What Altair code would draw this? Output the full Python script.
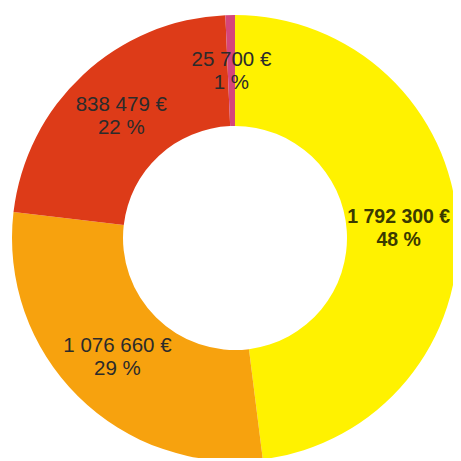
import altair as alt
import pandas as pd

categories = ["A", "B", "C", "D"]
values = [1792300, 1076660, 838479, 25700]
amount_labels = ["1 792 300 €", "1 076 660 €", "838 479 €", "25 700 €"]
pct_labels = ["48 %", "29 %", "22 %", "1 %"]
colors = ["#FFF200", "#F7A20E", "#DD3B18", "#D5467A"]

df = pd.DataFrame({
    "cat": categories,
    "value": values,
    "order": list(range(len(categories))),
    "label": [a + "\n" + p for a, p in zip(amount_labels, pct_labels)],
})
df["lab_bold"] = [l if i == 0 else "" for i, l in enumerate(df["label"])]
df["lab_reg"] = [l if i != 0 else "" for i, l in enumerate(df["label"])]

base = alt.Chart(df).encode(
    theta=alt.Theta("value:Q", stack=True),
    order=alt.Order("order:Q"),
    x=alt.value(227),
    y=alt.value(230),
)

arcs = base.mark_arc(outerRadius=223, innerRadius=112).encode(
    color=alt.Color("cat:N", scale=alt.Scale(domain=categories, range=colors), legend=None)
)

txt_bold = base.mark_text(
    radius=167, fontSize=19.5, font="Liberation Sans", fontWeight="bold", dy=-11, dx=-3,
    lineBreak="\n", lineHeight=23, color="#3a3a00", align="center", baseline="middle"
).encode(text="lab_bold:N")

txt_reg = base.mark_text(
    radius=167, fontSize=20.5, font="Liberation Sans", dy=-11,
    lineBreak="\n", lineHeight=23, color="#2b2b2b", align="center", baseline="middle"
).encode(text="lab_reg:N")

chart = alt.layer(arcs, txt_bold, txt_reg).properties(
    width=445, height=450, padding=0, autosize=alt.AutoSizeParams(type="none")
).configure_view(stroke=None)

chart.save("out.html", embed_options={"renderer": "svg", "actions": False})
